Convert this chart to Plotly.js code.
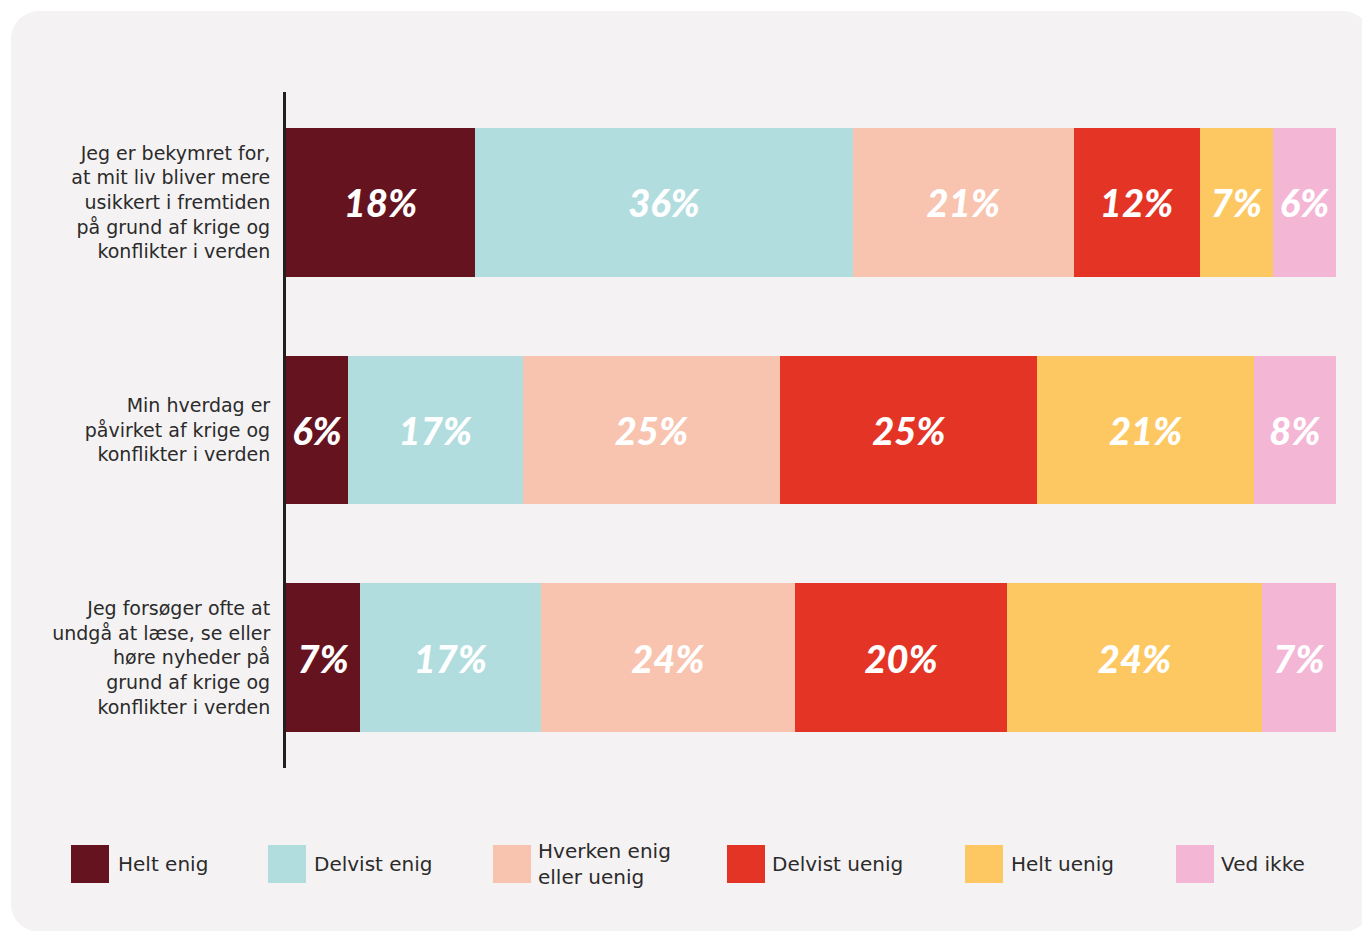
<!DOCTYPE html>
<html>
<head>
<meta charset="utf-8">
<script src="https://cdn.plot.ly/plotly-3.0.1.min.js"></script>
<style>
  html, body { margin:0; padding:0; background:#ffffff; width:1362px; height:931px; overflow:hidden; }
  #panel { position:absolute; left:11px; top:11px; width:1360px; height:921px; background:#f5f2f3; border-radius:28px; }
  #chart { position:absolute; left:0; top:0; width:1362px; height:931px; }
</style>
</head>
<body>
<div id="panel"></div>
<div id="chart"></div>
<script>
// ---- data ----
const categories = [
  "Jeg er bekymret for,<br>at mit liv bliver mere<br>usikkert i fremtiden<br>på grund af krige og<br>konflikter i verden",
  "Min hverdag er<br>påvirket af krige og<br>konflikter i verden",
  "Jeg forsøger ofte at<br>undgå at læse, se eller<br>høre nyheder på<br>grund af krige og<br>konflikter i verden"
];
const seriesNames = ["Helt enig", "Delvist enig", "Hverken enig<br>eller uenig", "Delvist uenig", "Helt uenig", "Ved ikke"];
const seriesColors = ["#661320", "#b2dddf", "#f8c4b0", "#e43425", "#fdc862", "#f4b6d5"];
const heltEnig     = [18, 6, 7];
const delvistEnig  = [36, 17, 17];
const hverken      = [21, 25, 24];
const delvistUenig = [12, 25, 20];
const heltUenig    = [7, 21, 24];
const vedIkke      = [6, 8, 7];
const seriesValues = [heltEnig, delvistEnig, hverken, delvistUenig, heltUenig, vedIkke];

// ---- layout geometry (pixels) ----
const W = 1362, H = 931;
const L = 286, R = 1336, T = 92, B = 768;
const px = x => (x - L) / (R - L);
const py = y => (B - y) / (B - T);

const traces = seriesValues.map((vals, i) => ({
  type: 'bar',
  orientation: 'h',
  name: seriesNames[i],
  y: categories,
  x: vals,
  text: vals.map(v => v + '%'),
  texttemplate: '%{text}',
  textposition: 'inside',
  insidetextanchor: 'middle',
  constraintext: 'none',
  textangle: 0,
  textfont: { family: 'Lato, "Liberation Sans", sans-serif', size: 38, color: '#ffffff', weight: 900, style: 'italic' },
  marker: { color: seriesColors[i], line: { width: 0 } },
  hoverinfo: 'skip'
}));

const legendSquareX = [71, 268, 493, 727, 965, 1176];
const legendTextX   = [116, 312, 536, 770, 1009, 1219];
const shapes = seriesNames.map((n, i) => ({
  type: 'rect', xref: 'paper', yref: 'paper',
  x0: px(legendSquareX[i]), x1: px(legendSquareX[i] + 38),
  y0: py(883), y1: py(845),
  fillcolor: seriesColors[i], line: { width: 0 }
}));
const annotations = seriesNames.map((n, i) => ({
  xref: 'paper', yref: 'paper',
  x: px(legendTextX[i]), y: py(864),
  xanchor: 'left', yanchor: 'middle', align: 'left',
  text: n, showarrow: false,
  font: { family: '"DejaVu Sans", sans-serif', size: 20, color: '#2b2b2b' }
}));

const layout = {
  width: W, height: H,
  margin: { l: L, r: W - R, t: T, b: H - B, pad: 0 },
  paper_bgcolor: 'rgba(0,0,0,0)',
  plot_bgcolor: 'rgba(0,0,0,0)',
  barmode: 'stack',
  barnorm: 'percent',
  bargap: 0.346,
  showlegend: false,
  xaxis: { range: [0, 100], visible: false, fixedrange: true },
  yaxis: {
    type: 'category',
    categoryorder: 'array', categoryarray: categories,
    range: [2.485, -0.485],
    showline: true, linecolor: '#231f20', linewidth: 3,
    showgrid: false, zeroline: false,
    ticks: '', ticklabelstandoff: 9,
    tickfont: { family: '"DejaVu Sans", sans-serif', size: 19, color: '#2b2b2b' }
  },
  shapes: shapes,
  annotations: annotations,
  font: { family: '"DejaVu Sans", sans-serif' }
};

Plotly.newPlot('chart', traces, layout, { displayModeBar: false, staticPlot: true });
</script>
</body>
</html>
